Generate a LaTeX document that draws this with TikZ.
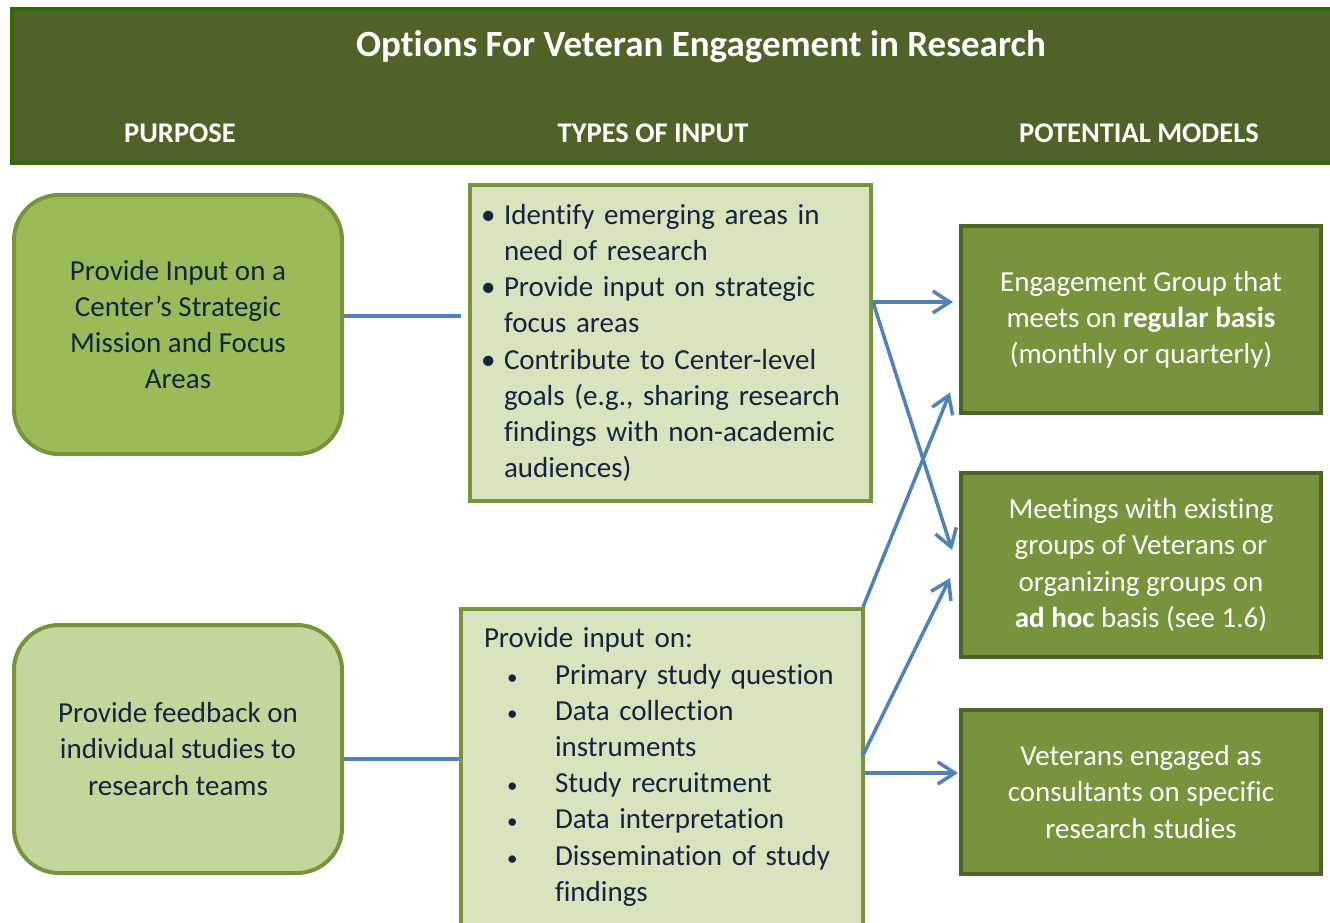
\documentclass[tikz,border=0pt]{standalone}
\usepackage{fontspec}
\setmainfont[Ligatures=NoCommon]{Carlito}
\usetikzlibrary{calc}
\usetikzlibrary{arrows.meta}
\usepackage{xcolor}

\definecolor{headfill}{HTML}{4F6228}
\definecolor{headedge}{HTML}{346804}
\definecolor{oliveedge}{HTML}{77933C}
\definecolor{purposeA}{HTML}{9BBB59}
\definecolor{purposeB}{HTML}{C3D69B}
\definecolor{inputfill}{HTML}{D7E4BD}
\definecolor{modelfill}{HTML}{77933C}
\definecolor{modeledge}{HTML}{4F6228}
\definecolor{linkblue}{HTML}{4F81BD}
\definecolor{navytext}{HTML}{14243D}

\newcommand{\smalldot}{\makebox[48pt][l]{\fontsize{21}{21}\selectfont\textbullet}}

\begin{document}
\begin{tikzpicture}[x=1pt, y=-1pt,
  bodyfont/.style = {font=\fontsize{29}{36.2}\selectfont},
  purpose/.style = {draw=oliveedge, line width=4pt, rounded corners=45pt, minimum width=328pt, text=navytext, align=center, bodyfont},
  inputbox/.style = {draw=oliveedge, fill=inputfill, line width=4pt, text=navytext, align=left, bodyfont},
  modelbox/.style = {draw=modeledge, fill=modelfill, line width=4pt, minimum width=360pt, text=white, align=center, bodyfont},
  colhead/.style = {text=white, font=\fontsize{28.5}{32}\selectfont\bfseries},
  link/.style = {draw=linkblue, line width=3.5pt},
  arrowlink/.style = {link, -{Straight Barb[length=17pt, width=22pt]}}]

\clip (0,0) rectangle (1330,922);

% header band
\node[draw=headedge, fill=headfill, line width=4.5pt, minimum width=1330pt, minimum height=154pt] (head) at (677,86) {};
\node[text=white, font=\fontsize{37}{42}\selectfont\bfseries] (title) at (701,47) {Options For Veteran Engagement in Research};
\node[colhead] (hpurpose) at (180,133) {PURPOSE};
\node[colhead] (hinput) at (653,133) {TYPES OF INPUT};
\node[colhead] (hmodel) at (1139,133) {POTENTIAL MODELS};


% purpose column
\node[purpose, fill=purposeA, minimum height=259pt] (purpose1) at (178,324.5) {Provide Input on a\\Center’s Strategic\\Mission and Focus\\Areas};
\node[purpose, fill=purposeB, minimum height=248pt] (purpose2) at (178,749) {Provide feedback on\\individual studies to\\research teams};


% types of input
\node[inputbox, text width=379pt, inner xsep=11pt, minimum height=316pt] (input1) at (670.5,343) {%
\makebox[23pt][l]{\textbullet}Identify emerging areas in\\
\hspace*{23pt}need of research\\
\makebox[23pt][l]{\textbullet}Provide input on strategic\\
\hspace*{23pt}focus areas\\
\makebox[23pt][l]{\textbullet}Contribute to Center-level\\
\hspace*{23pt}goals (e.g., sharing research\\
\hspace*{23pt}findings with non-academic\\
\hspace*{23pt}audiences)};

\node[inputbox, text width=356pt, inner xsep=23pt, minimum height=316pt] (input2) at (662,767) {%
Provide input on:\\
\hspace*{23pt}\smalldot Primary study question\\
\hspace*{23pt}\smalldot Data collection\\
\hspace*{71pt}instruments\\
\hspace*{23pt}\smalldot Study recruitment\\
\hspace*{23pt}\smalldot Data interpretation\\
\hspace*{23pt}\smalldot Dissemination of study\\
\hspace*{71pt}findings};


% potential models
\node[modelbox, minimum height=187pt] (modelA) at (1141,319.5) {Engagement Group that\\meets on \textbf{regular basis}\\(monthly or quarterly)};
\node[modelbox, minimum height=184pt] (modelB) at (1141,565) {Meetings with existing\\groups of Veterans or\\organizing groups on\\\textbf{ad hoc} basis (see 1.6)};
\node[modelbox, minimum height=164pt] (modelC) at (1141,792) {Veterans engaged as\\consultants on specific\\research studies};


% connectors
\coordinate (gap1) at (461,316);
\coordinate (gap2) at (input2.west |- 0,759);
\draw[link] (purpose1.east |- gap1) -- (gap1);
\draw[link] (purpose2.east |- gap2) -- (gap2);

\coordinate (out1) at ($(input1.east)+(0,-41)$);
\coordinate (tipB1) at ($(modelB.west)+(-7,-15)$);
\draw[arrowlink, shorten >=6pt] (out1) -- (modelA.west |- out1);
\draw[arrowlink] (out1) -- (tipB1);

\coordinate (out2) at ($(input2.north east)+(-2,0)$);
\coordinate (out3) at ($(input2.east)+(-2,-12)$);
\coordinate (out4) at ($(input2.east)+(0,6)$);
\coordinate (tipA) at ($(modelA.west)+(-9,73)$);
\coordinate (tipB2) at ($(modelB.west)+(-9,13)$);
\draw[arrowlink] (out2) -- (tipA);
\draw[arrowlink] (out3) -- (tipB2);
\draw[arrowlink, shorten >=1pt] (out4) -- (modelC.west |- out4);

\end{tikzpicture}
\end{document}
